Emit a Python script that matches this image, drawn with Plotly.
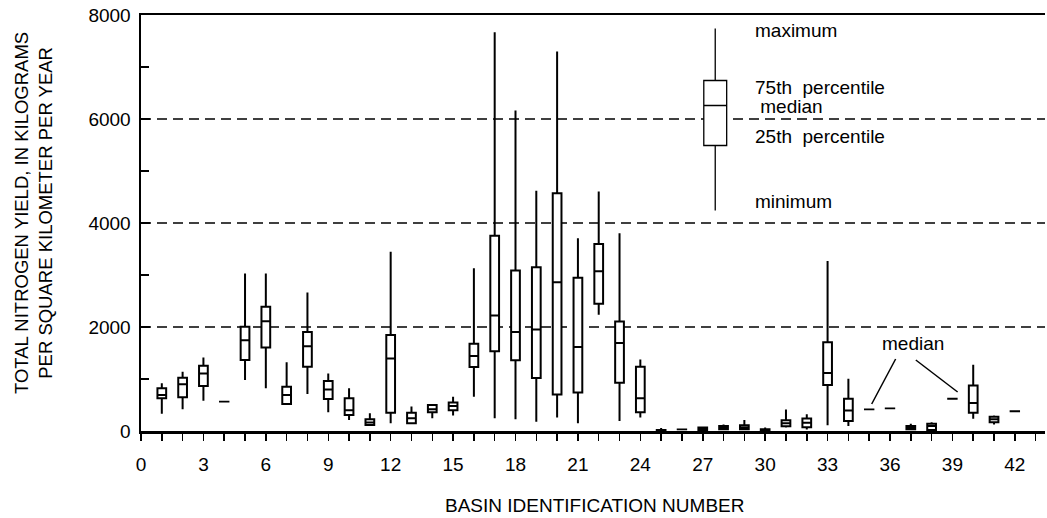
import plotly.graph_objects as go

# ---- data ----
basins = [1, 2, 3, 5, 6, 7, 8, 9, 10, 11, 12, 13, 14, 15, 16, 17, 18, 19, 20, 21,
          22, 23, 24, 25, 27, 28, 29, 30, 31, 32, 33, 34, 37, 38, 40, 41]
minimum = [330, 420, 580, 980, 820, 500, 710, 360, 210, 100, 150, 145, 245, 300, 660, 245, 225, 180, 260, 150,
           2235, 190, 260, 0, 15, 30, 30, 0, 65, 30, 110, 95, 30, 20, 235, 125]
pct25 = [630, 650, 865, 1365, 1605, 520, 1235, 615, 310, 115, 350, 150, 360, 400, 1230, 1535, 1360, 1020, 700, 740,
         2445, 930, 360, 10, 20, 35, 35, 15, 90, 70, 885, 190, 35, 20, 350, 170]
median = [690, 900, 1105, 1745, 2110, 690, 1630, 800, 400, 165, 1395, 245, 420, 480, 1440, 2220, 1905, 1950, 2860, 1615,
          3070, 1690, 630, 15, 40, 60, 65, 25, 150, 160, 1115, 395, 60, 95, 540, 225]
pct75 = [820, 1025, 1255, 2005, 2390, 850, 1905, 960, 630, 225, 1845, 350, 500, 550, 1680, 3755, 3085, 3150, 4570, 2945,
         3595, 2105, 1235, 20, 65, 95, 110, 35, 205, 240, 1705, 620, 95, 140, 875, 275]
maximum = [920, 1140, 1415, 3030, 3030, 1320, 2665, 1105, 820, 340, 3445, 470, 520, 660, 3130, 7670, 6165, 4620, 7300, 3705,
           4605, 3805, 1375, 60, 70, 125, 210, 65, 415, 320, 3270, 1005, 140, 170, 1275, 300]

# basins shown with only a median
median_only_basins = [4, 26, 35, 36, 39, 42]
median_only_values = [565, 30, 415, 435, 620, 380]

# explanation (key) box
key_x = [27.6]
key_stats = dict(lowerfence=[4240], q1=[5490], median=[6260], q3=[6740], upperfence=[7740])
key_labels = ["maximum", "75th  percentile", " median", "25th  percentile", "minimum"]
key_label_y = [7711, 6600, 6231, 5654, 4404]

grid_values = [2000, 4000, 6000]

FONT = "Liberation Sans, Arial, Helvetica, sans-serif"

fig = go.Figure()

fig.add_trace(go.Box(
    x=basins, q1=pct25, median=median, q3=pct75,
    lowerfence=minimum, upperfence=maximum,
    width=0.42, whiskerwidth=0, boxpoints=False,
    line=dict(color="black", width=2), fillcolor="white",
    showlegend=False, hoverinfo="skip"))

fig.add_trace(go.Box(
    x=median_only_basins, q1=median_only_values, median=median_only_values,
    q3=median_only_values, lowerfence=median_only_values, upperfence=median_only_values,
    width=0.5, whiskerwidth=0, boxpoints=False,
    line=dict(color="black", width=1.8), fillcolor="white",
    showlegend=False, hoverinfo="skip"))

fig.add_trace(go.Box(
    x=key_x, width=1.1, whiskerwidth=0, boxpoints=False,
    line=dict(color="black", width=1.3), fillcolor="white",
    showlegend=False, hoverinfo="skip", **key_stats))

# dashed reference lines
for g in grid_values:
    fig.add_shape(type="line", xref="paper", x0=0, x1=1, yref="y", y0=g, y1=g,
                  line=dict(color="black", width=1.6, dash="10px,6px"), layer="below")

# key labels
for lab, yy in zip(key_labels, key_label_y):
    fig.add_annotation(x=29.4, y=yy, xref="x", yref="y", text=lab, showarrow=False,
                       xanchor="left", yanchor="middle",
                       font=dict(family=FONT, size=19, color="black"))

# "median" callout
fig.add_annotation(x=37.1, y=1692, xref="x", yref="y", text="median", showarrow=False,
                   xanchor="center", yanchor="middle",
                   font=dict(family=FONT, size=19, color="black"))
fig.add_shape(type="line", xref="x", yref="y", x0=36.27, y0=1385, x1=35.12, y1=519,
              line=dict(color="black", width=1.5))
fig.add_shape(type="line", xref="x", yref="y", x0=37.24, y0=1365, x1=39.25, y1=750,
              line=dict(color="black", width=1.5))

# axis titles
fig.add_annotation(x=-0.119, y=0.525, xref="paper", yref="paper",
                   text="TOTAL NITROGEN YIELD, IN KILOGRAMS<br>PER SQUARE KILOMETER PER YEAR",
                   showarrow=False, textangle=-90, align="center",
                   xanchor="center", yanchor="middle",
                   font=dict(family=FONT, size=18.5, color="black"))
fig.add_annotation(x=0.502, y=-0.18, xref="paper", yref="paper",
                   text="BASIN IDENTIFICATION NUMBER", showarrow=False,
                   xanchor="center", yanchor="middle",
                   font=dict(family=FONT, size=19, color="black"))

fig.update_layout(
    width=1047, height=518,
    margin=dict(l=141, r=2, t=15, b=87),
    paper_bgcolor="white", plot_bgcolor="white",
    font=dict(family=FONT, size=19, color="black"),
    xaxis=dict(range=[0, 43.45], tickmode="linear", tick0=0, dtick=3,
               ticks="outside", ticklen=7, tickwidth=1.5, tickcolor="black",
               minor=dict(dtick=1, ticks="outside", ticklen=7, tickwidth=1.5, tickcolor="black"),
               showline=True, linecolor="black", linewidth=2.5, mirror=True,
               showgrid=False, zeroline=False, ticklabelstandoff=8,
               tickfont=dict(family=FONT, size=19, color="black")),
    yaxis=dict(range=[0, 8000], tickmode="linear", tick0=0, dtick=2000,
               ticks="inside", ticklen=9, tickwidth=1.5, tickcolor="black",
               minor=dict(dtick=1000, ticks="inside", ticklen=8, tickwidth=1.5, tickcolor="black"),
               showline=True, linecolor="black", linewidth=2.5, mirror=False,
               showgrid=False, zeroline=False, ticklabelstandoff=4,
               tickfont=dict(family=FONT, size=19, color="black")),
)

# remove the page's default body margin so the figure sits at the window's top-left corner
fig.write_html("out.html",
               config={"displayModeBar": False, "staticPlot": True},
               post_script="document.body.style.margin='0';document.body.style.padding='0';"
                           "document.body.style.overflow='hidden';")
